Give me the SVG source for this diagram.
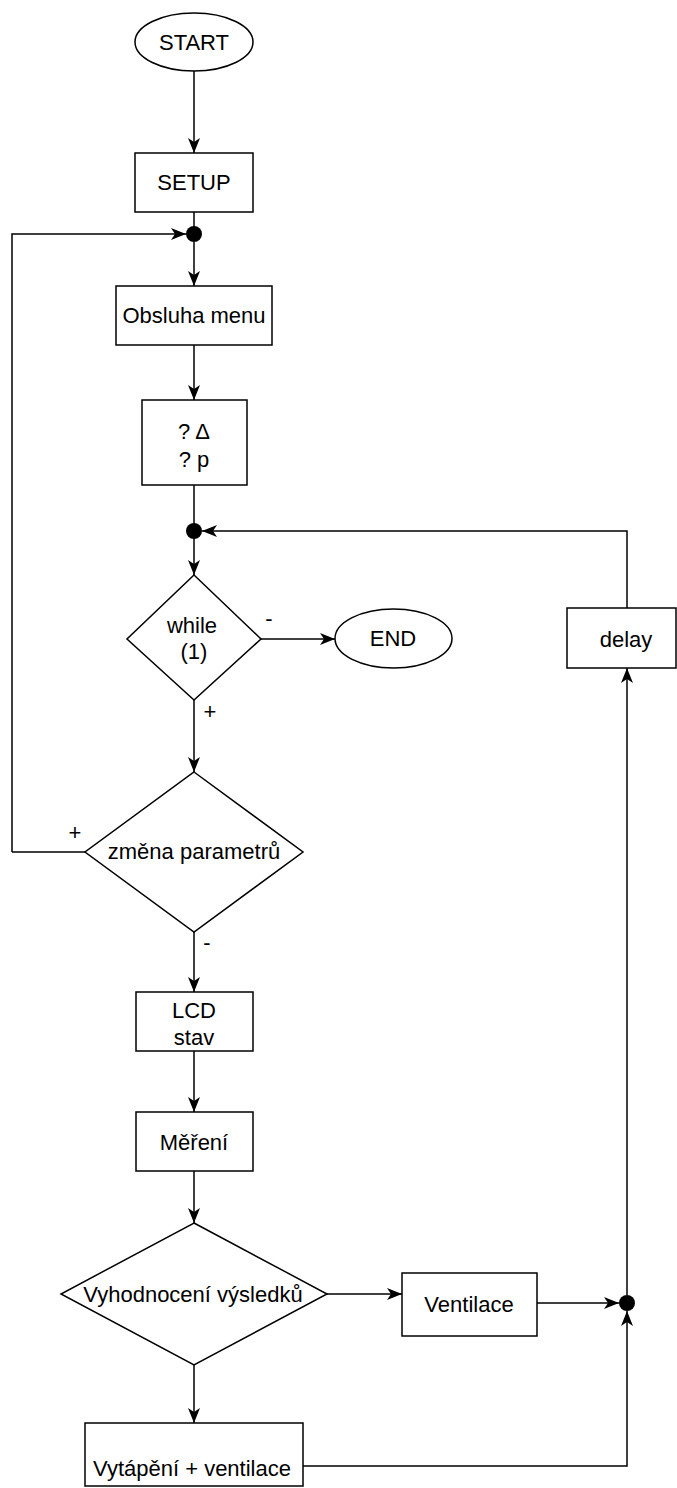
<svg xmlns="http://www.w3.org/2000/svg" width="677" height="1488" viewBox="0 0 677 1488">
<style>
.s{fill:#fff;stroke:#000;stroke-width:1.5}
.c{fill:none;stroke:#000;stroke-width:1.5}
.t{font-family:"Liberation Sans",Arial,sans-serif;font-size:22px;fill:#000;text-anchor:middle}
.d{fill:#000}
</style>
<defs>
<marker id="a" markerUnits="userSpaceOnUse" markerWidth="16" markerHeight="12" refX="15" refY="6" orient="auto">
<path d="M0,0 L15,6 L0,12 L4,6 z" fill="#000"/>
</marker>
</defs>
<rect width="677" height="1488" fill="#fff"/>
<g id="connectors">
<path class="c" d="M194,71 V153" marker-end="url(#a)"/>
<path class="c" d="M194,212 V234"/>
<path class="c" d="M12,852 H85 M12,852 V234 H186" marker-end="url(#a)"/>
<path class="c" d="M194,242 V286" marker-end="url(#a)"/>
<path class="c" d="M194,345 V400" marker-end="url(#a)"/>
<path class="c" d="M194,485 V530"/>
<path class="c" d="M194,538 V575" marker-end="url(#a)"/>
<path class="c" d="M261,639 H335" marker-end="url(#a)"/>
<path class="c" d="M194,700 V772" marker-end="url(#a)"/>
<path class="c" d="M194,932 V992" marker-end="url(#a)"/>
<path class="c" d="M194,1051 V1112" marker-end="url(#a)"/>
<path class="c" d="M194,1171 V1223" marker-end="url(#a)"/>
<path class="c" d="M327,1294 H402" marker-end="url(#a)"/>
<path class="c" d="M194,1365 V1423" marker-end="url(#a)"/>
<path class="c" d="M537,1303 H619" marker-end="url(#a)"/>
<path class="c" d="M303,1466 H627 V1311" marker-end="url(#a)"/>
<path class="c" d="M627,1295 V668" marker-end="url(#a)"/>
<path class="c" d="M627,608 V531 H202" marker-end="url(#a)"/>
<text class="t" x="269" y="626">-</text>
<text class="t" x="210" y="719">+</text>
<text class="t" x="75" y="840">+</text>
<text class="t" x="207" y="950">-</text>
</g>
<g id="dot1"><circle class="d" cx="194" cy="234" r="8"/></g>
<g id="dot2"><circle class="d" cx="194" cy="531" r="8"/></g>
<g id="dot3"><circle class="d" cx="627" cy="1303" r="8"/></g>
<g id="start"><ellipse class="s" cx="194" cy="42" rx="59" ry="29"/><text class="t" x="194" y="50">START</text></g>
<g id="setup"><rect class="s" x="135" y="153" width="118" height="59"/><text class="t" x="194" y="190">SETUP</text></g>
<g id="menu"><rect class="s" x="116" y="286" width="156" height="59"/><text class="t" x="194" y="323">Obsluha menu</text></g>
<g id="query"><rect class="s" x="142" y="400" width="105" height="85"/><text class="t" x="194" y="439">? Δ</text><text class="t" x="194" y="467">? p</text></g>
<g id="while"><polygon class="s" points="194,575 261,639 194,700 127,639"/><text class="t" x="192" y="633">while</text><text class="t" x="194" y="659">(1)</text></g>
<g id="end"><ellipse class="s" cx="393.5" cy="638.5" rx="58.5" ry="29.5"/><text class="t" x="393" y="646">END</text></g>
<g id="zmena"><polygon class="s" points="194,772 303,852 194,932 85,852"/><text class="t" x="194" y="859">změna parametrů</text></g>
<g id="lcd"><rect class="s" x="136" y="992" width="117" height="59"/><text class="t" x="194" y="1018">LCD</text><text class="t" x="194" y="1045">stav</text></g>
<g id="mereni"><rect class="s" x="136" y="1112" width="117" height="59"/><text class="t" x="194" y="1150">Měření</text></g>
<g id="vyhod"><polygon class="s" points="194,1223 327,1294 194,1365 61,1294"/><text class="t" x="193" y="1302">Vyhodnocení výsledků</text></g>
<g id="ventilace"><rect class="s" x="402" y="1273" width="135" height="63"/><text class="t" x="469" y="1312">Ventilace</text></g>
<g id="vytapeni"><rect class="s" x="85" y="1423" width="218" height="63"/><text class="t" x="192" y="1476">Vytápění + ventilace</text></g>
<g id="delay"><rect class="s" x="567" y="608" width="109" height="60"/><text class="t" x="626" y="647">delay</text></g>
</svg>
